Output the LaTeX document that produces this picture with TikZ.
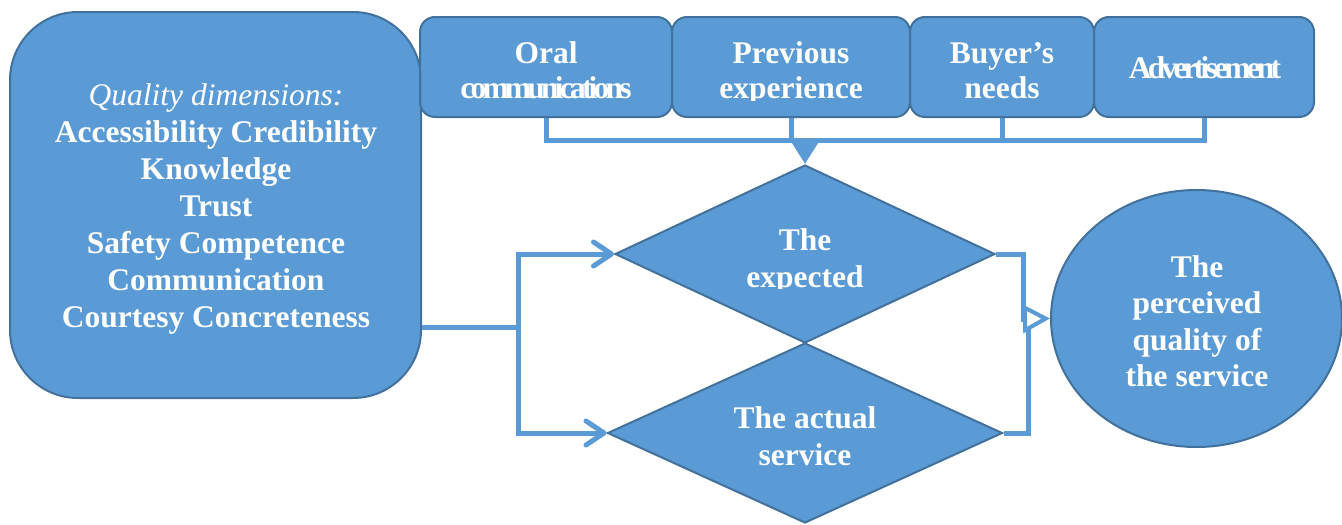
\documentclass[tikz,border=0pt]{standalone}
\usepackage{fontspec}
\setmainfont{Liberation Serif}
\usetikzlibrary{shapes.geometric,arrows.meta}
\definecolor{boxfill}{HTML}{5B9BD5}
\definecolor{boxline}{HTML}{41719C}
\definecolor{connline}{HTML}{5B9BD5}
\newcommand{\tightletters}[1]{{\addfontfeatures{LetterSpace=-12}#1}}
\begin{document}
\begin{tikzpicture}[x=1pt,y=-1pt,
  shapebox/.style={fill=boxfill,draw=boxline,line width=2pt,inner sep=0pt},
  roundbox/.style={shapebox,rectangle,rounded corners=15pt},
  lbl/.style={text=white,font=\fontsize{31.5}{37}\selectfont\bfseries,align=center,inner sep=0pt,anchor=base},
  toplbl/.style={lbl,font=\fontsize{31.5}{35}\selectfont\bfseries},
  ovallbl/.style={lbl,font=\fontsize{31.5}{36.5}\selectfont\bfseries},
  connector/.style={draw=connline,line width=5pt},
  barb/.style={-{Straight Barb[length=18pt,width=24pt,round]}},
  downtip/.style={-{Triangle[length=22pt,width=26pt]}},
  sidetip/.style={-{Triangle[open,length=27pt,width=28pt,line width=4pt]}}
]
\useasboundingbox (0,0) rectangle (1342,525);

% shapes
\node[shapebox,rectangle,rounded corners=68pt,minimum width=411pt,minimum height=386pt] (lb) at (215.5,205) {};
\node[roundbox,minimum width=252pt,minimum height=100pt] (b1) at (546,67) {};
\node[roundbox,minimum width=238pt,minimum height=100pt] (b2) at (791,67) {};
\node[roundbox,minimum width=184pt,minimum height=100pt] (b3) at (1002,67) {};
\node[roundbox,minimum width=220pt,minimum height=100pt] (b4) at (1204,67) {};
\node[shapebox,diamond,minimum width=380pt,minimum height=178pt] (d1) at (805,254) {};
\node[shapebox,diamond,minimum width=395pt,minimum height=180pt] (d2) at (805,433) {};
\node[shapebox,ellipse,minimum width=291pt,minimum height=257pt] (ov) at (1196.5,318.5) {};

% texts (base anchor = baseline of the last line)
\node[lbl] (lbt) at (216,327) {{\mdseries\itshape Quality dimensions:}\\Accessibility Credibility\\Knowledge\\Trust\\Safety Competence\\Communication\\Courtesy Concreteness};
\begin{scope}
  \clip (400,0) rectangle (1342,100);
  \node[toplbl] (b1t) at (546,98) {Oral\\\tightletters{communications}};
  \node[toplbl] (b2t) at (791,98) {Previous\\experience};
  \node[toplbl] (b3t) at (1002,98) {Buyer’s\\needs};
\end{scope}
\node[toplbl] (b4t) at (1205,78) {\tightletters{Advertisement}};
\begin{scope}
  \clip (600,160) rectangle (1010,288);
  \node[lbl] (d1t) at (805,287) {The\\expected};
\end{scope}
\node[lbl] (d2t) at (805,465) {The actual\\service};
\node[ovallbl] (ovt) at (1197,386.5) {The\\perceived\\quality of\\the service};

% connector coordinates
\coordinate (bar) at (0,140);
\coordinate (lj) at (518,327);
\coordinate (rj1) at (1023,322);
\coordinate (rj2) at (1028,327);
\coordinate (ra) at (1022,319);

% top connectors
\draw[connector] (b1.south) |- (b4.south |- bar) -- (b4.south);
\draw[connector] (b2.south) -- (b2.south |- bar);
\draw[connector] (b3.south) -- (b3.south |- bar);
\draw[connector,downtip] (d1.north |- bar) -- (d1.north);

% left connectors
\draw[connector] (lj -| lb.east) -- (lj);
\draw[connector,barb] (lj) |- (d1.west);
\draw[connector,barb] (lj) |- (d2.west);

% right connectors
\draw[connector] (d1.east) -| (rj1);
\draw[connector] (d2.east) -| (rj2);
\draw[connector,sidetip] (ra) -- (ov.west);
\end{tikzpicture}
\end{document}
